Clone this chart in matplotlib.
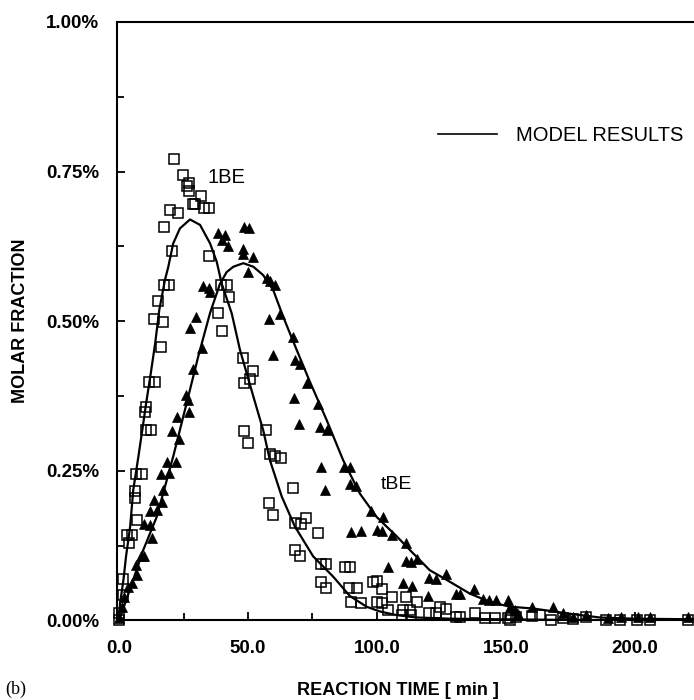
import numpy as np
import matplotlib
matplotlib.use("Agg")
import matplotlib.pyplot as plt
from matplotlib.lines import Line2D

# measured 1BE (open squares): time [min], molar fraction [%]
be1_t = [0.0, 0.0, 1.7, 1.7, 3.2, 5.2, 4.0, 6.9, 6.3, 6.3, 6.5, 9.0, 10.5, 12.4,
         10.5, 10.1, 11.7, 14.1, 16.3, 13.7, 17.1, 15.2, 17.4, 19.5, 20.7, 17.6,
         19.8, 22.7, 21.3, 24.8, 27.0, 26.2, 27.3, 31.6, 28.5, 29.6, 32.8, 34.8,
         35.0, 39.4, 41.7, 42.5, 38.3, 39.8, 47.9, 51.9, 50.8, 48.6, 48.4, 50.1,
         57.0, 58.5, 60.5, 62.8, 67.6, 58.3, 59.7, 68.4, 70.5, 72.5, 77.2, 68.2,
         70.0, 78.2, 80.2, 87.6, 89.5, 78.3, 80.1, 89.3, 92.1, 89.8, 93.7, 98.6,
         100.1, 102.1, 99.9, 102.1, 105.7, 104.4, 111.2, 110.0, 112.8, 115.6,
         109.6, 113.4, 120.3, 122.9, 124.4, 127.0, 130.6, 132.4, 138.0, 141.9,
         145.7, 150.9, 154.1, 151.6, 160.0, 163.2, 167.7, 172.2, 175.9, 181.0,
         189.0, 194.2, 200.9, 205.8, 220.7]
be1_y = [0.000, 0.012, 0.042, 0.069, 0.142, 0.142, 0.130, 0.168, 0.217, 0.205,
         0.245, 0.245, 0.318, 0.318, 0.356, 0.349, 0.399, 0.399, 0.457, 0.503,
         0.498, 0.534, 0.561, 0.561, 0.617, 0.658, 0.686, 0.681, 0.771, 0.745,
         0.731, 0.726, 0.718, 0.709, 0.696, 0.696, 0.689, 0.689, 0.609, 0.561,
         0.561, 0.540, 0.513, 0.484, 0.439, 0.417, 0.404, 0.397, 0.317, 0.297,
         0.318, 0.278, 0.274, 0.271, 0.222, 0.197, 0.176, 0.163, 0.161, 0.172,
         0.147, 0.118, 0.107, 0.095, 0.094, 0.089, 0.090, 0.065, 0.054, 0.055,
         0.055, 0.031, 0.030, 0.065, 0.066, 0.052, 0.031, 0.030, 0.040, 0.018,
         0.039, 0.018, 0.018, 0.031, 0.009, 0.009, 0.012, 0.012, 0.023, 0.019,
         0.005, 0.005, 0.012, 0.004, 0.004, 0.004, 0.006, 0.001, 0.008, 0.009,
         0.001, 0.004, 0.002, 0.005, 0.000, 0.000, 0.000, 0.000, 0.000]

# measured tBE (filled triangles)
tbe_t = [0.0, 1.0, 1.9, 3.6, 5.2, 6.9, 6.5, 8.5, 9.8, 12.9, 9.8, 12.0, 12.0,
         14.6, 13.7, 16.6, 17.2, 16.2, 19.4, 18.7, 22.0, 23.3, 20.4, 22.4, 27.1,
         26.0, 26.9, 28.8, 32.3, 30.0, 27.5, 32.7, 35.0, 35.3, 38.2, 41.1, 39.9,
         42.4, 48.4, 50.4, 48.1, 48.2, 51.9, 50.0, 57.2, 58.7, 60.5, 58.1, 62.4,
         67.3, 59.6, 68.4, 70.2, 72.8, 67.9, 77.2, 69.9, 78.0, 80.5, 78.4, 87.4,
         89.7, 80.0, 89.4, 91.9, 97.9, 102.3, 89.8, 93.7, 99.9, 102.1, 105.8,
         111.2, 104.4, 111.2, 113.4, 115.6, 110.0, 113.8, 120.3, 122.9, 126.7,
         119.7, 130.6, 132.4, 137.7, 141.0, 143.5, 146.1, 150.9, 151.6, 153.7,
         154.8, 160.0, 168.3, 172.2, 176.1, 181.3, 189.7, 194.6, 201.3, 206.1,
         220.7]
tbe_y = [0.004, 0.023, 0.040, 0.056, 0.062, 0.076, 0.093, 0.107, 0.108, 0.137,
         0.161, 0.159, 0.183, 0.185, 0.202, 0.198, 0.218, 0.245, 0.246, 0.265,
         0.265, 0.303, 0.317, 0.340, 0.349, 0.377, 0.368, 0.421, 0.455, 0.507,
         0.488, 0.559, 0.555, 0.549, 0.648, 0.644, 0.635, 0.626, 0.658, 0.656,
         0.620, 0.613, 0.608, 0.582, 0.572, 0.567, 0.561, 0.503, 0.512, 0.474,
         0.444, 0.435, 0.428, 0.396, 0.372, 0.361, 0.329, 0.324, 0.319, 0.256,
         0.256, 0.256, 0.218, 0.228, 0.225, 0.183, 0.173, 0.148, 0.150, 0.152,
         0.150, 0.142, 0.130, 0.090, 0.099, 0.098, 0.102, 0.063, 0.058, 0.071,
         0.069, 0.078, 0.041, 0.045, 0.044, 0.052, 0.036, 0.034, 0.034, 0.035,
         0.023, 0.018, 0.011, 0.023, 0.023, 0.013, 0.006, 0.009, 0.004, 0.006,
         0.005, 0.005, 0.005]

# model results
mod1_t = [0.0, 0.4, 1.7, 2.7, 4.3, 5.5, 7.5, 9.0, 10.5, 12.3, 14.0, 15.6, 17.8,
          19.1, 21.0, 23.6, 27.5, 31.4, 35.3, 37.9, 39.8, 43.7, 46.9, 52.1, 55.9,
          58.5, 63.1, 68.2, 75.3, 83.1, 89.5, 96.0, 101.2, 107.6, 115.4, 128.3,
          147.7, 170.9, 223.0]
mod1_y = [0.000, 0.029, 0.068, 0.107, 0.157, 0.218, 0.274, 0.318, 0.363, 0.413,
          0.463, 0.519, 0.569, 0.591, 0.630, 0.655, 0.670, 0.661, 0.630, 0.599,
          0.563, 0.513, 0.452, 0.374, 0.318, 0.268, 0.207, 0.157, 0.107, 0.073,
          0.041, 0.023, 0.015, 0.009, 0.005, 0.003, 0.002, 0.001, 0.000]
mod2_t = [0.0, 4.3, 9.4, 14.6, 21.0, 26.2, 30.7, 35.3, 39.1, 41.7, 44.3, 48.2,
          52.1, 55.9, 59.8, 63.7, 68.9, 74.0, 80.5, 86.9, 93.4, 99.9, 107.6,
          114.1, 120.5, 127.0, 136.0, 143.8, 151.6, 160.6, 173.5, 186.4, 199.3,
          223.0]
mod2_y = [0.000, 0.053, 0.118, 0.173, 0.274, 0.363, 0.441, 0.514, 0.562, 0.582,
          0.591, 0.597, 0.591, 0.577, 0.552, 0.507, 0.452, 0.399, 0.335, 0.268,
          0.212, 0.173, 0.141, 0.112, 0.084, 0.068, 0.045, 0.031, 0.023, 0.020,
          0.012, 0.005, 0.003, 0.002]

xticks = [0, 50, 100, 150, 200]
xlabels = ["0.0", "50.0", "100.0", "150.0", "200.0"]
yticks = [0.0, 0.25, 0.5, 0.75, 1.0]
ylabels = ["0.00%", "0.25%", "0.50%", "0.75%", "1.00%"]

sans = ["Liberation Sans", "DejaVu Sans"]
plt.rcParams["font.family"] = sans

fig = plt.figure(figsize=(6.94, 7.0), dpi=100)
ax = fig.add_axes([0.1686, 0.1136, 0.8314, 0.855])

ax.plot(mod1_t, mod1_y, color="black", lw=1.6, zorder=2)
ax.plot(mod2_t, mod2_y, color="black", lw=1.6, zorder=2)
ax.plot(be1_t, be1_y, ls="none", marker="s", ms=6.5, mfc="none", mec="black",
        mew=1.1, zorder=3, clip_on=False)
ax.plot(tbe_t, tbe_y, ls="none", marker="^", ms=7.5, mfc="black", mec="black",
        mew=0.5, zorder=3, clip_on=False)

ax.text(41.5, 0.74, "1BE", fontsize=14.5, ha="center", va="center")
ax.text(107.5, 0.228, "tBE", fontsize=14, ha="center", va="center")

handle = Line2D([], [], color="black", lw=1.2)
ax.legend([handle], ["MODEL RESULTS"], loc="center left",
          bbox_to_anchor=(0.556, 0.81), frameon=False, fontsize=14.5,
          handlelength=2.95, handletextpad=0.95, borderpad=0, borderaxespad=0)

ax.set_xlim(-0.8, 223)
ax.set_ylim(0, 1.0)
ax.set_xticks(xticks)
ax.set_xticklabels(xlabels)
ax.set_xticks(np.arange(25, 225, 50), minor=True)
ax.set_yticks(yticks)
ax.set_yticklabels(ylabels)
ax.set_yticks([0.125, 0.375, 0.625, 0.875], minor=True)

ax.tick_params(which="both", direction="in", width=1.3, labelsize=13.5)
ax.tick_params(which="major", length=6)
ax.tick_params(which="minor", length=5)
ax.tick_params(axis="y", pad=13)
ax.tick_params(axis="x", pad=14)
for lab in ax.get_xticklabels() + ax.get_yticklabels():
    lab.set_fontweight("bold")

for s in ["left", "top", "bottom"]:
    ax.spines[s].set_linewidth(1.5)
ax.spines["right"].set_visible(False)

ax.set_xlabel("REACTION TIME [ min ]", fontsize=13, fontweight="bold")
ax.xaxis.set_label_coords(0.487, -0.103)
ax.set_ylabel("MOLAR FRACTION", fontsize=13, fontweight="bold")
ax.yaxis.set_label_coords(-0.152, 0.5)

fig.text(0.007, 1 - 689 / 700, "(b)", fontsize=13, va="center",
         family=["Liberation Serif", "DejaVu Serif"])

fig.savefig("out.png", dpi=100)
